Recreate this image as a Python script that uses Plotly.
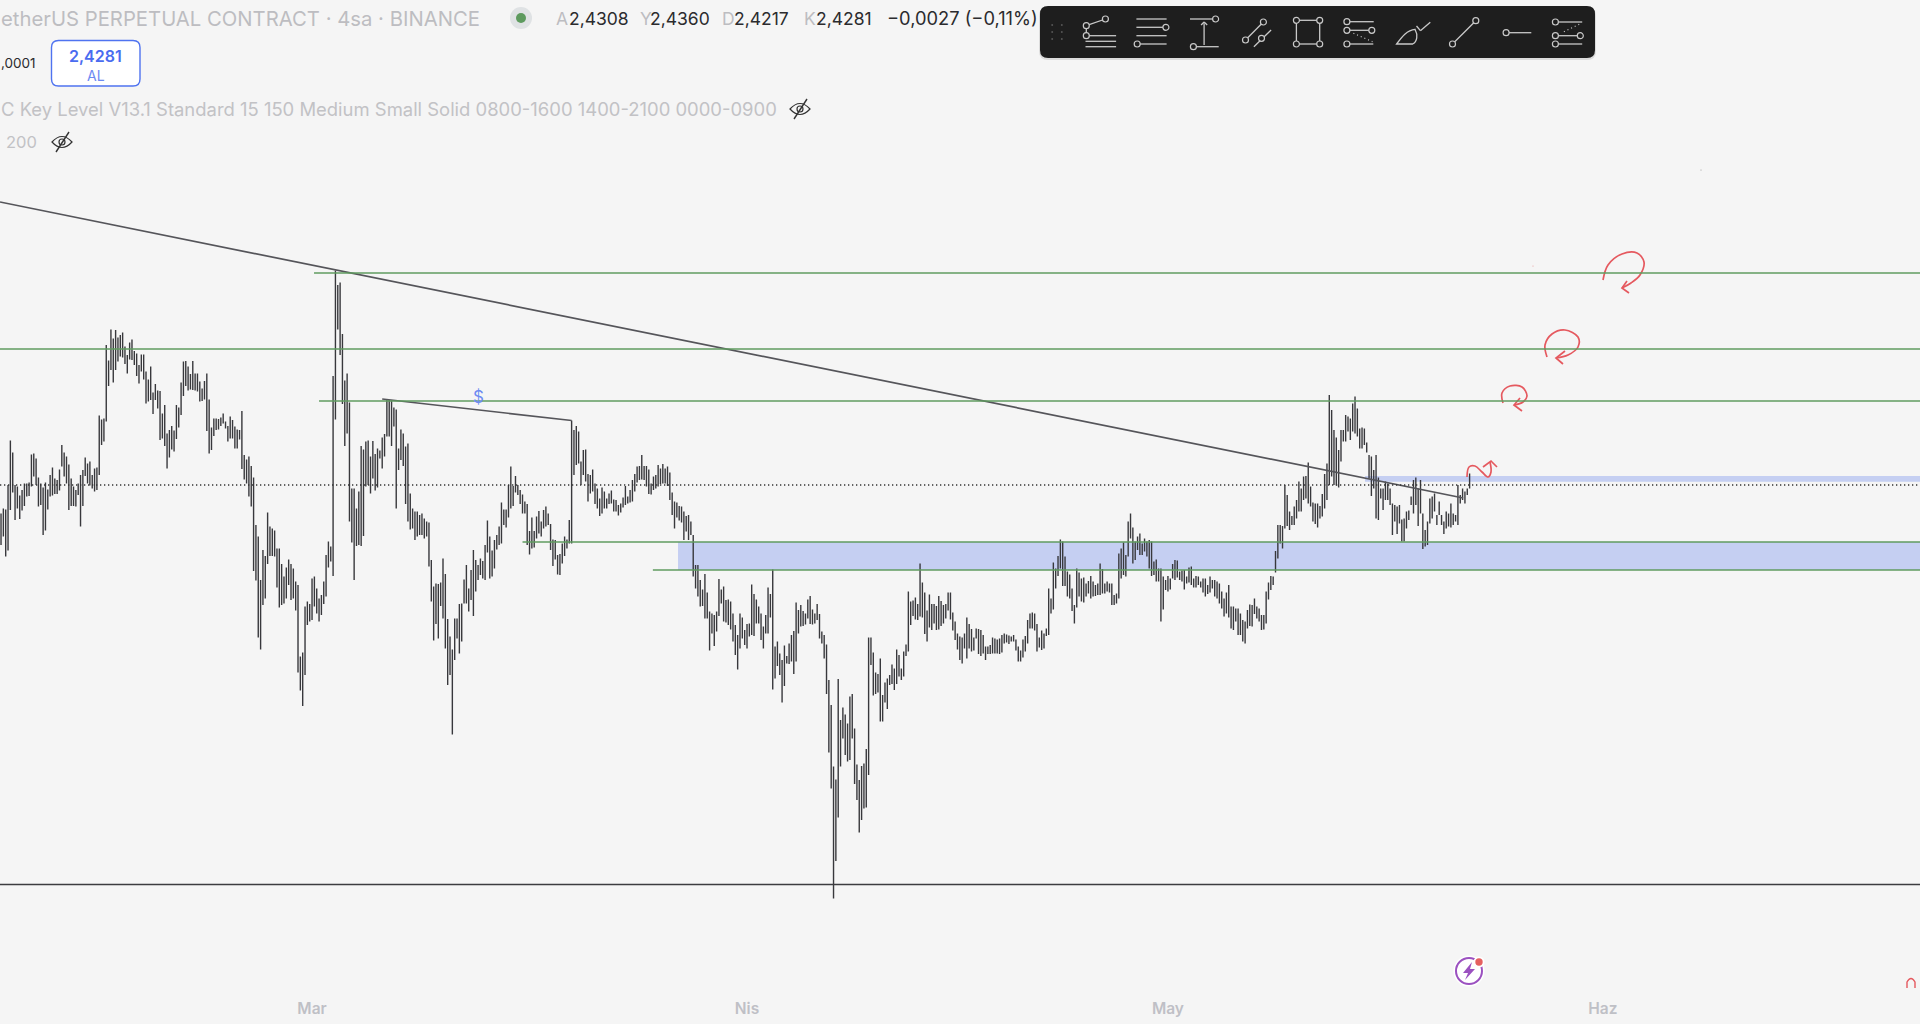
import pandas as pd
import plotly.graph_objects as go

# high / low of every 4h bar
highs_1 = [2.371,2.381,2.379,2.428,2.517,2.493,2.428,2.425,2.407,2.418,2.431,2.431,2.433,2.489,2.491,2.481,2.443,2.431,2.423,2.433,2.419,2.448,2.463,2.441,2.438,2.459,2.508,2.493,2.485,2.469,2.441,2.425,2.418,2.431,2.448,2.458,2.483,2.471,2.475,2.448,2.461,2.463,2.567,2.559,2.561,2.708,2.677,2.739,2.721,2.738,2.723,2.728,2.733,2.705,2.688,2.713,2.719,2.696,2.691,2.668,2.689,2.689,2.655,2.639,2.665,2.613,2.630,2.617,2.616,2.571,2.588,2.531,2.538,2.546,2.537,2.588,2.583,2.633,2.675,2.676,2.665,2.650,2.676,2.651,2.651,2.635,2.621,2.636,2.651,2.599,2.543,2.561,2.561,2.560,2.563,2.571,2.555,2.546,2.565,2.558,2.545,2.539,2.538,2.576,2.488,2.479,2.485]
lows_1 = [2.308,2.325,2.285,2.297,2.378,2.413,2.358,2.381,2.360,2.377,2.386,2.405,2.406,2.425,2.445,2.428,2.385,2.388,2.328,2.337,2.379,2.405,2.407,2.410,2.410,2.417,2.465,2.445,2.431,2.378,2.386,2.386,2.385,2.408,2.345,2.386,2.446,2.431,2.427,2.421,2.415,2.418,2.448,2.508,2.515,2.555,2.626,2.658,2.633,2.658,2.675,2.685,2.683,2.670,2.651,2.679,2.678,2.668,2.646,2.631,2.655,2.639,2.591,2.595,2.598,2.570,2.598,2.581,2.518,2.521,2.506,2.461,2.483,2.499,2.495,2.520,2.543,2.568,2.606,2.626,2.617,2.619,2.618,2.617,2.615,2.595,2.596,2.599,2.536,2.491,2.498,2.526,2.538,2.539,2.546,2.551,2.541,2.515,2.521,2.521,2.501,2.501,2.519,2.460,2.439,2.431,2.405]
highs_2 = [2.466,2.443,2.348,2.325,2.238,2.298,2.286,2.373,2.345,2.341,2.337,2.301,2.301,2.270,2.245,2.263,2.279,2.270,2.261,2.235,2.228,2.085,2.093,2.185,2.195,2.190,2.241,2.245,2.221,2.201,2.208,2.235,2.288,2.315,2.305,2.646,2.857,2.828,2.833,2.730,2.637,2.651,2.593,2.421,2.421,2.381,2.415,2.506,2.499,2.515,2.517,2.485,2.516,2.490,2.501,2.497,2.523,2.530,2.598,2.598,2.597,2.583,2.579,2.501,2.539,2.531,2.505,2.511,2.411,2.381,2.375,2.375,2.368,2.371,2.361,2.355,2.353,2.278,2.225,2.231,2.230,2.233,2.281,2.250,2.160,2.125,2.099,2.161,2.161,2.190,2.191,2.239,2.268,2.221,2.258,2.298,2.278,2.268,2.281,2.276,2.308,2.357,2.325,2.297,2.318,2.328,2.345]
lows_2 = [2.385,2.256,2.237,2.123,2.099,2.188,2.201,2.270,2.286,2.286,2.285,2.223,2.183,2.188,2.191,2.201,2.228,2.198,2.201,2.177,2.053,2.017,1.986,2.048,2.148,2.155,2.158,2.185,2.171,2.155,2.168,2.190,2.205,2.263,2.275,2.246,2.559,2.739,2.688,2.590,2.506,2.531,2.355,2.313,2.238,2.306,2.308,2.306,2.326,2.425,2.428,2.411,2.441,2.417,2.423,2.481,2.461,2.485,2.525,2.525,2.506,2.545,2.381,2.458,2.478,2.466,2.390,2.355,2.339,2.341,2.318,2.325,2.328,2.328,2.321,2.325,2.265,2.195,2.117,2.150,2.121,2.186,2.161,2.101,2.028,2.048,1.929,2.078,2.121,2.091,2.115,2.191,2.191,2.175,2.198,2.166,2.215,2.238,2.248,2.241,2.238,2.293,2.241,2.245,2.261,2.299,2.308]
highs_3 = [2.393,2.379,2.379,2.428,2.465,2.426,2.446,2.428,2.418,2.409,2.395,2.390,2.336,2.363,2.336,2.365,2.376,2.355,2.378,2.385,2.371,2.350,2.319,2.318,2.288,2.290,2.311,2.325,2.319,2.358,2.557,2.538,2.546,2.535,2.475,2.498,2.499,2.450,2.448,2.459,2.431,2.421,2.401,2.423,2.415,2.401,2.411,2.417,2.399,2.398,2.388,2.391,2.403,2.426,2.405,2.418,2.438,2.450,2.465,2.466,2.488,2.466,2.466,2.459,2.431,2.445,2.448,2.468,2.461,2.470,2.461,2.465,2.453,2.413,2.395,2.393,2.386,2.385,2.375,2.366,2.368,2.355,2.328,2.268,2.268,2.238,2.219,2.250,2.213,2.175,2.171,2.168,2.175,2.240,2.219,2.225,2.198,2.199,2.195,2.171,2.148,2.128,2.171,2.163,2.138,2.150,2.151]
lows_3 = [2.311,2.348,2.343,2.363,2.381,2.386,2.413,2.408,2.390,2.371,2.371,2.308,2.289,2.301,2.303,2.321,2.331,2.325,2.341,2.345,2.348,2.298,2.266,2.279,2.249,2.248,2.271,2.286,2.301,2.311,2.311,2.448,2.468,2.471,2.428,2.448,2.435,2.395,2.411,2.415,2.390,2.381,2.366,2.371,2.381,2.381,2.390,2.391,2.375,2.375,2.367,2.373,2.383,2.388,2.391,2.393,2.395,2.415,2.433,2.438,2.439,2.438,2.425,2.410,2.409,2.418,2.421,2.425,2.430,2.431,2.431,2.426,2.398,2.368,2.341,2.363,2.357,2.353,2.318,2.335,2.318,2.328,2.245,2.221,2.205,2.185,2.186,2.161,2.161,2.097,2.131,2.106,2.135,2.166,2.191,2.155,2.153,2.148,2.139,2.115,2.088,2.059,2.101,2.121,2.108,2.101,2.125]
highs_4 = [2.229,2.210,2.199,2.185,2.171,2.145,2.168,2.223,2.210,2.259,2.105,2.115,2.091,2.078,2.107,2.086,2.111,2.128,2.136,2.193,2.178,2.188,2.176,2.171,2.199,2.206,2.179,2.171,2.190,2.170,2.135,2.128,2.109,2.038,1.988,1.865,1.839,2.040,1.958,1.983,1.969,1.951,2.005,2.010,1.941,1.869,1.838,1.866,1.871,1.900,2.123,2.123,2.093,2.053,2.050,2.081,2.008,2.033,2.041,2.048,2.069,2.061,2.099,2.088,2.061,2.095,2.109,2.215,2.195,2.197,2.203,2.190,2.271,2.233,2.213,2.177,2.209,2.190,2.190,2.186,2.206,2.196,2.188,2.190,2.213,2.213,2.173,2.155,2.131,2.125,2.123,2.131,2.163,2.150,2.140,2.123,2.141,2.140,2.138,2.128,2.105,2.105,2.108,2.123,2.121,2.119,2.121]
lows_4 = [2.128,2.126,2.151,2.151,2.118,2.101,2.131,2.131,2.163,2.019,2.041,2.066,2.048,1.993,2.026,2.071,2.070,2.075,2.050,2.075,2.131,2.145,2.146,2.149,2.161,2.150,2.149,2.151,2.158,2.121,2.111,2.081,2.010,1.893,1.821,1.601,1.676,1.763,1.865,1.921,1.888,1.875,1.878,1.921,1.830,1.798,1.733,1.758,1.781,1.783,1.848,2.068,2.007,2.010,2.013,1.955,1.955,1.993,1.980,2.028,2.030,2.018,2.030,2.045,2.038,2.045,2.086,2.095,2.148,2.166,2.159,2.158,2.165,2.163,2.130,2.115,2.143,2.138,2.151,2.138,2.139,2.146,2.151,2.161,2.177,2.159,2.137,2.118,2.099,2.078,2.071,2.101,2.081,2.101,2.095,2.097,2.121,2.090,2.086,2.091,2.078,2.090,2.090,2.091,2.091,2.091,2.090]
highs_5 = [2.128,2.131,2.129,2.127,2.125,2.128,2.119,2.105,2.097,2.119,2.126,2.158,2.171,2.173,2.171,2.150,2.123,2.137,2.131,2.141,2.221,2.201,2.273,2.261,2.286,2.319,2.315,2.285,2.255,2.249,2.221,2.188,2.261,2.253,2.241,2.243,2.231,2.236,2.246,2.235,2.228,2.231,2.271,2.260,2.231,2.235,2.231,2.231,2.208,2.211,2.291,2.301,2.313,2.288,2.355,2.371,2.343,2.315,2.325,2.331,2.311,2.321,2.315,2.318,2.315,2.275,2.279,2.261,2.261,2.245,2.238,2.246,2.241,2.270,2.278,2.277,2.255,2.257,2.258,2.245,2.263,2.265,2.241,2.246,2.245,2.235,2.241,2.241,2.228,2.245,2.238,2.238,2.235,2.231,2.215,2.201,2.213,2.228,2.185,2.185,2.181,2.181,2.171,2.158,2.155,2.178,2.189]
lows_5 = [2.093,2.111,2.113,2.110,2.115,2.115,2.097,2.075,2.075,2.083,2.095,2.111,2.141,2.141,2.137,2.095,2.103,2.098,2.101,2.126,2.128,2.171,2.179,2.221,2.246,2.261,2.226,2.226,2.205,2.201,2.176,2.151,2.183,2.205,2.195,2.193,2.205,2.211,2.201,2.205,2.206,2.208,2.208,2.211,2.211,2.215,2.213,2.188,2.188,2.191,2.201,2.241,2.248,2.245,2.285,2.321,2.271,2.278,2.298,2.288,2.288,2.295,2.285,2.261,2.246,2.248,2.235,2.235,2.155,2.179,2.218,2.215,2.219,2.241,2.238,2.243,2.238,2.235,2.219,2.231,2.233,2.228,2.223,2.223,2.228,2.223,2.213,2.205,2.210,2.213,2.221,2.205,2.201,2.191,2.181,2.165,2.171,2.163,2.141,2.138,2.155,2.128,2.128,2.115,2.111,2.141,2.146]
highs_6 = [2.188,2.201,2.185,2.181,2.168,2.168,2.215,2.233,2.246,2.245,2.296,2.348,2.348,2.346,2.428,2.408,2.375,2.366,2.385,2.398,2.435,2.421,2.445,2.446,2.473,2.425,2.393,2.391,2.391,2.386,2.410,2.450,2.471,2.608,2.578,2.538,2.523,2.498,2.538,2.538,2.568,2.565,2.561,2.591,2.605,2.581,2.541,2.543,2.541,2.513,2.488,2.485,2.458,2.488,2.443,2.421,2.421,2.435,2.431,2.421,2.391,2.388,2.385,2.388,2.359,2.361,2.375,2.377,2.405,2.438,2.443,2.421,2.438,2.371,2.338,2.355,2.401,2.405,2.411,2.368,2.395,2.368,2.355,2.375,2.371,2.391,2.371,2.368,2.428,2.408,2.421,2.415,2.421,2.451]
lows_6 = [2.145,2.170,2.161,2.155,2.138,2.139,2.151,2.199,2.218,2.228,2.253,2.281,2.311,2.301,2.341,2.346,2.338,2.348,2.348,2.361,2.375,2.375,2.398,2.401,2.391,2.385,2.355,2.350,2.343,2.361,2.365,2.381,2.398,2.428,2.445,2.428,2.427,2.423,2.475,2.515,2.515,2.535,2.518,2.535,2.531,2.525,2.501,2.501,2.508,2.493,2.441,2.406,2.421,2.361,2.358,2.401,2.378,2.398,2.398,2.388,2.328,2.355,2.330,2.351,2.315,2.315,2.341,2.358,2.388,2.371,2.388,2.346,2.371,2.300,2.305,2.308,2.351,2.361,2.375,2.348,2.368,2.348,2.330,2.341,2.345,2.343,2.348,2.355,2.348,2.391,2.398,2.391,2.408,2.421]

level_prices = [2.852, 2.700, 2.596, 2.314, 2.258]
level_starts = ["2025-03-01 03:25", "2025-02-06 18:15", "2025-03-01 12:00", "2025-03-16 00:00", "2025-03-25 07:00"]
support_price = 1.629
last_price = 2.428
zone_low = [2.258, 2.4346]
zone_high = [2.314, 2.446]
zone_starts = ["2025-03-27 02:00", "2025-05-15 01:00"]
trend_dates = ["2025-02-06 18:15", "2025-05-22 01:00"]
trend_prices = [2.994, 2.402]
trend2_dates = ["2025-03-06 00:00", "2025-03-19 12:00"]
trend2_prices = [2.600, 2.557]
month_ticks = ["2025-03-01", "2025-04-01", "2025-05-01", "2025-06-01"]
month_labels = ["Mar", "Nis", "May", "Haz"]

x_start = "2025-02-06 18:15"
x_end = "2025-06-23 14:24"

# red hand drawn loops, page pixels
red_curves = [
    [(1603,280),(1608,265),(1622,254),(1637,253),(1644,262),(1640,275),(1631,283),(1622,288)],
    [(1547,357),(1545,345),(1552,334),(1565,330),(1578,337),(1578,347),(1568,355),(1556,358)],
    [(1503,403),(1502,393),(1510,386),(1522,387),(1527,396),(1523,402),(1514,405)],
    [(1467,477),(1469,467),(1475,466),(1482,472),(1488,477),(1491,472),(1490,462)],
]
red_heads = [
    [(1627,281),(1622,288),(1629,293)],
    [(1565,351),(1556,358),(1563,364)],
    [(1520,398),(1514,405),(1522,411)],
    [(1483,467),(1491,461),(1497,467)],
]

BG = "#f5f5f5"
GREEN = "#5f9b5f"
BLUE = "#c5cff2"
RED = "#e5595f"
BAR = "#38383c"
ICON = "#c9c9c9"
DARK = "#1e1e1e"

highs = highs_1 + highs_2 + highs_3 + highs_4 + highs_5 + highs_6
lows = lows_1 + lows_2 + lows_3 + lows_4 + lows_5 + lows_6
dates = pd.date_range("2025-02-06 20:00", periods=len(highs), freq="4h")

bar_x, bar_y = [], []
for d, h, l in zip(dates, highs, lows):
    bar_x += [d, d, None]
    bar_y += [l, h, None]

fig = go.Figure()
fig.add_trace(go.Scatter(x=bar_x, y=bar_y, mode="lines", line=dict(color=BAR, width=1.4), hoverinfo="skip"))
fig.add_trace(go.Scatter(x=trend_dates, y=trend_prices, mode="lines", line=dict(color="#55555a", width=1.7), hoverinfo="skip"))
fig.add_trace(go.Scatter(x=trend2_dates, y=trend2_prices, mode="lines", line=dict(color="#55555a", width=1.7), hoverinfo="skip"))

for pts in red_curves:
    fig.add_trace(go.Scatter(x=[p[0] for p in pts], y=[p[1] for p in pts], xaxis="x2", yaxis="y2", mode="lines",
                             line=dict(color=RED, width=1.7, shape="spline", smoothing=1), hoverinfo="skip"))
for pts in red_heads:
    fig.add_trace(go.Scatter(x=[p[0] for p in pts], y=[p[1] for p in pts], xaxis="x2", yaxis="y2", mode="lines",
                             line=dict(color=RED, width=1.7), hoverinfo="skip"))

shapes = []
for lo, hi, st in zip(zone_low, zone_high, zone_starts):
    shapes.append(dict(type="rect", xref="x", yref="y", x0=st, x1=x_end, y0=lo, y1=hi,
                       fillcolor=BLUE, line_width=0, layer="below"))
for p, st in zip(level_prices, level_starts):
    shapes.append(dict(type="line", xref="x", yref="y", x0=st, x1=x_end, y0=p, y1=p,
                       line=dict(color=GREEN, width=1.3)))
shapes.append(dict(type="line", xref="x", yref="y", x0=x_start, x1=x_end, y0=support_price, y1=support_price,
                   line=dict(color="#3c3c40", width=1.3)))
shapes.append(dict(type="line", xref="x", yref="y", x0=x_start, x1=x_end, y0=last_price, y1=last_price,
                   line=dict(color="#333333", width=1.3, dash="1.3px,2.7px")))


def page_path(d, color=None, width=1.3, fill=None):
    s = dict(type="path", xref="x2", yref="y2", path=d, line=dict(color=color or "rgba(0,0,0,0)", width=width))
    if fill:
        s["fillcolor"] = fill
    shapes.append(s)


def page_circle(cx, cy, r, color=None, width=1.3, fill=None):
    shapes.append(dict(type="circle", xref="x2", yref="y2", x0=cx - r, x1=cx + r, y0=cy - r, y1=cy + r,
                       line=dict(color=color or "rgba(0,0,0,0)", width=width), fillcolor=fill or "rgba(0,0,0,0)"))


def round_rect(x0, y0, x1, y1, r):
    return (f"M {x0+r},{y0} L {x1-r},{y0} Q {x1},{y0} {x1},{y0+r} L {x1},{y1-r} Q {x1},{y1} {x1-r},{y1} "
            f"L {x0+r},{y1} Q {x0},{y1} {x0},{y1-r} L {x0},{y0+r} Q {x0},{y0} {x0+r},{y0} Z")


def eye_off(cx, cy):
    page_circle(cx, cy, 3, "#333333", 1.2)
    page_path(f"M {cx-10},{cy} Q {cx},{cy-11} {cx+10},{cy} Q {cx},{cy+11} {cx-10},{cy} Z", "#333333", 1.2)
    page_path(f"M {cx-6},{cy+10} L {cx+7},{cy-10}", "#333333", 1.4)


# toolbar
def tx(z):
    return round(1030 + z / 2.613, 1)


def ty(z):
    return round(z / 3, 1)


tool_lines = [
    (147,77,197,57),(147,77,147,107),(147,107,225,107),(145,124,225,124),(145,140,225,140),
    (278,57,357,57),(278,82,355,82),(278,107,357,107),(280,132,357,132),
    (418,57,485,57),(455,70,455,135),(447,75,455,66),(463,75,455,66),(427,140,493,140),
    (563,120,610,66),(585,140,630,90),
    (696,61,757,61),(757,61,757,132),(757,132,696,132),(696,132,696,61),
    (828,65,898,65),(828,91,893,91),(828,132,897,132),
    (1010,78,1020,92),(1020,92,1046,67),
    (1104,132,1165,62),
    (1244,98,1310,98),
    (1373,66,1443,66),(1373,107,1438,107),(1373,132,1443,132),
]
tool_dots = [(845,100,895,125),(1395,95,1437,72)]
tool_rings = [
    (147,77),(197,57),(147,107),(355,82),(280,132),(485,57),(427,140),(563,120),(610,66),(605,115),
    (696,61),(757,61),(696,132),(757,132),(828,65),(828,91),(893,91),(828,132),
    (1104,132),(1165,62),(1244,98),(1373,66),(1373,107),(1438,107),(1373,132),
]
grip = [(58,75),(83,75),(58,96),(83,96),(58,117),(83,117)]

page_path(round_rect(1039, 7, 1596, 60, 9), fill="rgba(0,0,0,0.10)")
page_path(round_rect(1040, 6, 1595, 58, 8), fill=DARK)
for a, b, c, d in tool_lines:
    page_path(f"M {tx(a)},{ty(b)} L {tx(c)},{ty(d)}", ICON)
for a, b, c, d in tool_dots:
    shapes.append(dict(type="line", xref="x2", yref="y2", x0=tx(a), y0=ty(b), x1=tx(c), y1=ty(d),
                       line=dict(color=ICON, width=1.2, dash="1px,3px")))
for a, b in tool_rings:
    page_circle(tx(a), ty(b), 3, ICON, 1.2, DARK)
for a, b in grip:
    page_circle(tx(a), ty(b), 1, fill="#555555")
page_path(f"M {tx(958)},{ty(132)} C {tx(972)},{ty(110)} {tx(985)},{ty(90)} {tx(1006)},{ty(88)} "
          f"C {tx(1014)},{ty(105)} {tx(1012)},{ty(125)} {tx(1000)},{ty(132)} Z", ICON)

# header bits
page_circle(521, 18, 11, fill="#dfe2e4")
page_circle(521, 18, 5, fill="#5d9a5e")
page_path(round_rect(51.5, 40.5, 140, 86, 7), "#4f73f0", 1.4, "#ffffff")
eye_off(800, 109)
eye_off(62, 142)

# bottom right logo and magnet
page_circle(1469, 971, 15.5, fill="#ffffff")
page_circle(1469, 971, 13, "#9b51c0", 2)
page_path("M 1472,962 L 1463,973 L 1468,973 L 1465,980 L 1475,969 L 1470,969 Z", fill="#9b51c0")
page_circle(1479, 962, 5.5, fill="#ffffff")
page_circle(1479, 962, 3.7, fill="#e5605f")
page_path("M 1907,988 L 1907,982 Q 1911,975 1915,982 L 1915,988", RED, 1.4)
page_circle(1533, 266, 0.6, fill="#e89a9a")
page_circle(1701, 170, 0.5, fill="#888888")

annotations = []


def label(x, y, s, size, color, anchor="left", weight=400):
    annotations.append(dict(x=x, y=y, xref="x2", yref="y2", text=s, showarrow=False, xanchor=anchor, yanchor="middle",
                            borderpad=0, font=dict(family="Inter", size=size, color=color, weight=weight)))


GREY = "#bdbdc1"
INK = "#2b2b2e"
label(0, 18, "etherUS PERPETUAL CONTRACT · 4sa · BINANCE", 20.3, GREY)
label(555, 18, "A", 17.5, GREY)
label(568, 18, "2,4308", 17.5, INK)
label(639, 18, "Y", 17.5, GREY)
label(649, 18, "2,4360", 17.5, INK)
label(721, 18, "D", 17.5, GREY)
label(733, 18, "2,4217", 17.5, INK)
label(803, 18, "K", 17.5, GREY)
label(815, 18, "2,4281", 17.5, INK)
label(886, 18, "−0,0027 (−0,11%)", 18.3, INK)
label(0, 63, ",0001", 13.5, INK)
label(95.5, 56, "2,4281", 16, "#4a6cf0", "center", 600)
label(95.5, 75, "AL", 14, "#6d8bf2", "center")
label(0, 109, "C Key Level V13.1 Standard 15 150 Medium Small Solid 0800-1600 1400-2100 0000-0900", 18.45, "#c2c2c5")
label(5, 142, "200", 16.5, "#c2c2c5")
label(478, 397, "$", 17, "#6d8bf2", "center")

fig.update_layout(
    width=1920, height=1024, margin=dict(l=0, r=0, t=0, b=0),
    paper_bgcolor=BG, plot_bgcolor="rgba(0,0,0,0)",
    showlegend=False, hovermode=False,
    shapes=shapes, annotations=annotations,
    xaxis=dict(type="date", range=[x_start, x_end], domain=[0, 1], anchor="y", showgrid=False, zeroline=False,
               tickmode="array", tickvals=month_ticks, ticktext=month_labels,
               ticks="outside", ticklen=1.5, tickcolor="rgba(0,0,0,0)",
               tickfont=dict(family="Inter", size=15.5, color="#bfc0c6", weight=600)),
    yaxis=dict(range=[1.412, 3.398], domain=[31 / 1024, 1], anchor="x", visible=False),
    xaxis2=dict(range=[0, 1920], domain=[0, 1], anchor="y2", visible=False),
    yaxis2=dict(range=[1024, 0], domain=[0, 1], anchor="x2", visible=False),
)

fig.write_html("out.html", config=dict(displayModeBar=False),
               post_script="document.body.style.margin='0';document.documentElement.style.overflow='hidden';")
